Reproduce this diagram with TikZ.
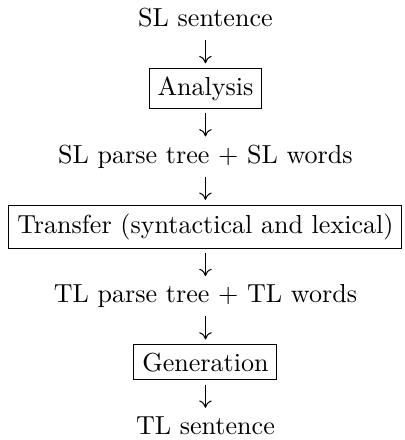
\documentclass[tikz,border=0pt]{standalone}
\usetikzlibrary{arrows.meta}
\tikzset{
  lbl/.style={anchor=base, inner sep=0pt, outer sep=0pt},
  stepbox/.style={anchor=base, draw, line width=0.4pt, inner sep=3.2pt, outer sep=0pt},
  arr/.style={line width=0.4pt, -{Computer Modern Rightarrow[length=2.8pt,width=4.8pt]}}
}
\begin{document}
\begin{tikzpicture}
\useasboundingbox (-78.81pt,-158.62pt) rectangle (76.54pt,10.16pt);
\node[lbl]     (s0) at (0,0)          {SL sentence};
\node[stepbox] (s1) at (0,-26.31pt)   {Analysis};
\node[lbl]     (s2) at (0,-52.41pt)   {SL parse tree $+$ SL words};
\node[stepbox] (s3) at (0,-79.29pt)   {Transfer (syntactical and lexical)};
\node[lbl]     (s4) at (0,-105.96pt)  {TL parse tree $+$ TL words};
\node[stepbox] (s5) at (0,-132.16pt)  {Generation};
\node[lbl]     (s6) at (0,-156.50pt)  {TL sentence};
\draw[arr] ([yshift=-5.23pt]s0.base) -- ([yshift=12.20pt]s1.base);
\draw[arr] ([yshift=-6.99pt]s1.base) -- ([yshift=10.23pt]s2.base);
\draw[arr] ([yshift=-5.23pt]s2.base) -- ([yshift=12.77pt]s3.base);
\draw[arr] ([yshift=-7.56pt]s3.base) -- ([yshift=10.23pt]s4.base);
\draw[arr] ([yshift=-5.23pt]s4.base) -- ([yshift=12.09pt]s5.base);
\draw[arr] ([yshift=-5.23pt]s5.base) -- ([yshift=10.23pt]s6.base);
\end{tikzpicture}
\end{document}
